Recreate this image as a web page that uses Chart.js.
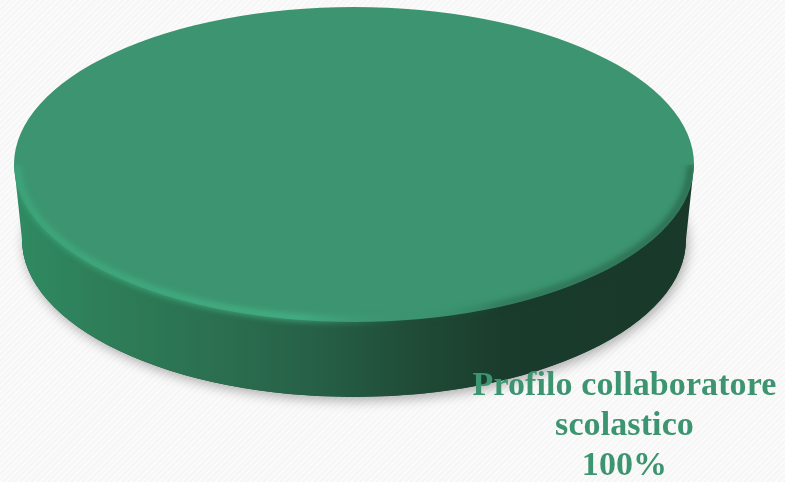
<!DOCTYPE html>
<html>
<head>
<meta charset="utf-8">
<script src="https://cdn.jsdelivr.net/npm/chart.js@4"></script>
<style>
html, body { margin: 0; padding: 0; }
body {
    width: 785px; height: 482px; overflow: hidden;
    background: repeating-linear-gradient(135deg, #fbfbfb 0, #fbfbfb 2px, #f6f6f6 2px, #f6f6f6 4px);
}
canvas { display: block; }
</style>
</head>
<body>
<canvas id="pie" width="785" height="482"></canvas>
<script>
const categories = ['Profilo collaboratore scolastico'];
const label_lines = ['Profilo collaboratore', 'scolastico'];
const values = [100];
const colors = ['#3c9570'];

const stretch_x = 340 / 157.5;   // pie is round in the library, the tilt comes from here
const depth = 75;
const foot_inset = 8;            // bottom of the wall is a little narrower than the top

// front half of the disc plus its wall
function wall_path(ctx, arc) {
    const rx = arc.outerRadius * stretch_x;
    ctx.beginPath();
    ctx.moveTo(arc.x - rx, arc.y);
    ctx.lineTo(arc.x + rx, arc.y);
    ctx.lineTo(arc.x + rx - foot_inset, arc.y + depth);
    ctx.ellipse(arc.x, arc.y + depth, rx - foot_inset, arc.outerRadius, 0, 0, Math.PI, false);
    ctx.closePath();
}

const tilt_pie = {
    id: 'tilt_pie',
    beforeDatasetsDraw(chart) {
        const ctx = chart.ctx;
        const arc = chart.getDatasetMeta(0).data[0];
        const rx = arc.outerRadius * stretch_x;

        // soft shadow, thrown by the foot only so it stays off the disc corners
        ctx.save();
        ctx.shadowColor = 'rgba(0,0,0,0.3)';
        ctx.shadowBlur = 12;
        ctx.shadowOffsetX = 2;
        ctx.shadowOffsetY = 4;
        ctx.fillStyle = '#1f4a36';
        ctx.beginPath();
        ctx.ellipse(arc.x, arc.y + depth, rx - foot_inset, arc.outerRadius, 0, 0, Math.PI * 2);
        ctx.fill();
        ctx.restore();

        const side = ctx.createLinearGradient(arc.x - rx, 0, arc.x + rx, 0);
        side.addColorStop(0, '#2f8a62');
        side.addColorStop(0.12, '#2e7f59');
        side.addColorStop(0.3, '#2b6f50');
        side.addColorStop(0.45, '#265f46');
        side.addColorStop(0.6, '#1f4a36');
        side.addColorStop(0.72, '#1a3c2c');
        side.addColorStop(1, '#19392a');
        ctx.fillStyle = side;
        wall_path(ctx, arc);
        ctx.fill();

        // stretch the pie itself
        ctx.save();
        ctx.translate(arc.x, arc.y);
        ctx.scale(stretch_x, 1);
        ctx.translate(-arc.x, -arc.y);
    },
    afterDatasetsDraw(chart) {
        const ctx = chart.ctx;
        ctx.restore();

        const arc = chart.getDatasetMeta(0).data[0];
        const rx = arc.outerRadius * stretch_x;
        const ry = arc.outerRadius;

        // bevel along the front edge, light on the left and dark on the right
        const rim = ctx.createLinearGradient(arc.x - rx, 0, arc.x + rx, 0);
        rim.addColorStop(0, 'rgba(62,176,130,0.75)');
        rim.addColorStop(0.42, 'rgba(72,190,144,0.8)');
        rim.addColorStop(0.58, 'rgba(60,149,112,0)');
        rim.addColorStop(0.72, 'rgba(24,58,42,0.4)');
        rim.addColorStop(1, 'rgba(24,58,42,0.55)');

        ctx.save();
        wall_path(ctx, arc);
        ctx.clip();
        ctx.filter = 'blur(3px)';
        ctx.strokeStyle = rim;
        ctx.lineWidth = 6;
        ctx.beginPath();
        ctx.ellipse(arc.x, arc.y, rx - 3, ry - 2, 0, 0, Math.PI, false);
        ctx.stroke();
        ctx.restore();
    },
    afterDraw(chart) {
        const ctx = chart.ctx;
        const total = values.reduce((a, b) => a + b, 0);
        const lines = label_lines.concat([Math.round(values[0] / total * 100) + '%']);

        ctx.save();
        ctx.font = 'bold 34px "Liberation Serif"';
        ctx.letterSpacing = '0.1px';
        ctx.fillStyle = colors[0];
        ctx.textAlign = 'center';
        ctx.textBaseline = 'alphabetic';
        lines.forEach((line, i) => {
            ctx.fillText(line, 624.5, 395 + i * 40);
        });
        ctx.restore();
    }
};

new Chart(document.getElementById('pie'), {
    type: 'pie',
    data: {
        labels: categories,
        datasets: [{
            data: values,
            backgroundColor: colors,
            borderWidth: 0,
            clip: false
        }]
    },
    options: {
        responsive: false,
        animation: false,
        events: [],
        layout: { padding: { left: 14, right: 91, top: 7, bottom: 160 } },
        plugins: {
            legend: { display: false },
            tooltip: { enabled: false }
        }
    },
    plugins: [tilt_pie]
});
</script>
</body>
</html>
